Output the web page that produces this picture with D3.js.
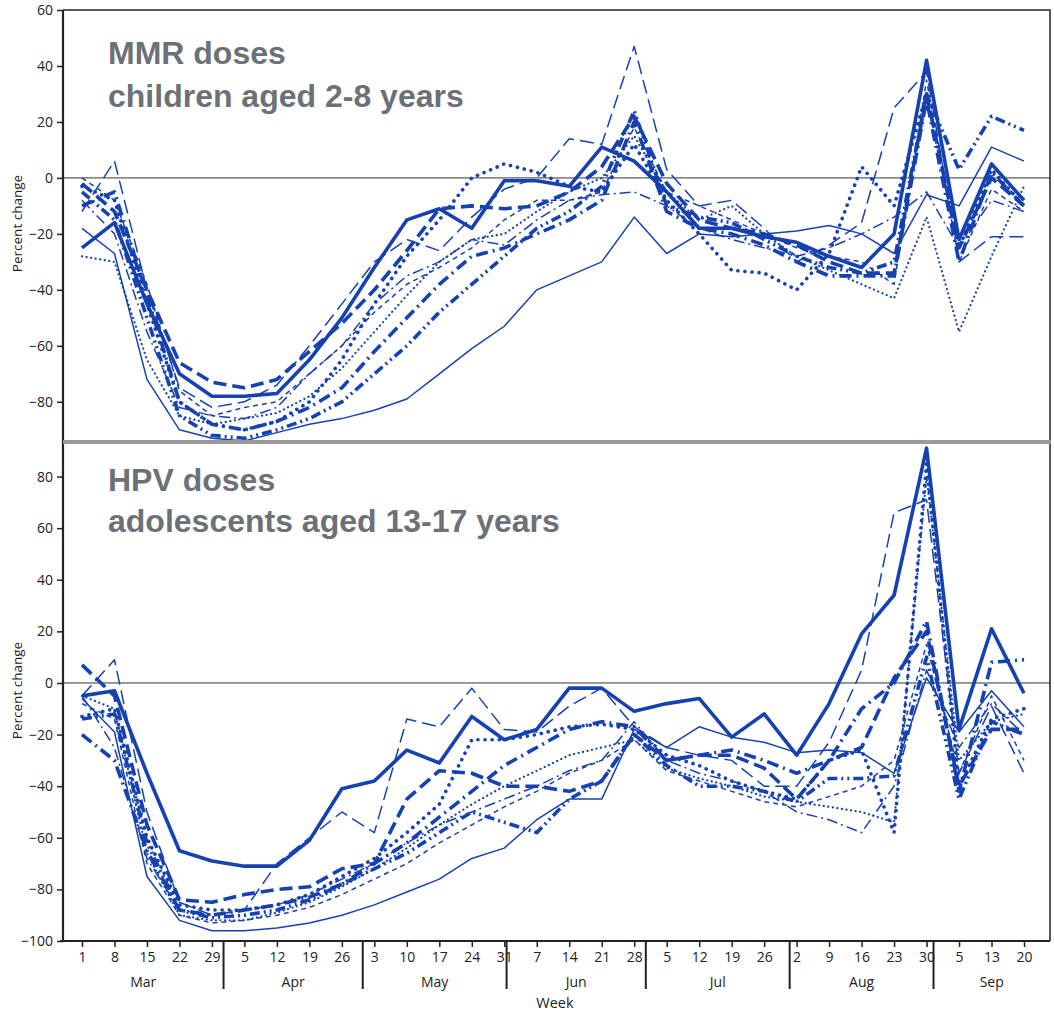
<!DOCTYPE html>
<html>
<head>
<meta charset="utf-8">
<script src="https://cdn.jsdelivr.net/npm/d3@7"></script>
<style>
body { margin: 0; background: #fff; }
svg { display: block; }
</style>
</head>
<body>
<script>
window.onload = function() {
	chart.init();
}

// week start days, Mar 1 to Sep 20
var weekLabels = ["1","8","15","22","29","5","12","19","26","3","10","17","24","31","7","14","21","28","5","12","19","26","2","9","16","23","30","5","13","20"];
var months = ["Mar","Apr","May","Jun","Jul","Aug","Sep"];
var monthFirstDays = ["2020-04-01","2020-05-01","2020-06-01","2020-07-01","2020-08-01","2020-09-01"];

var mmrTicks = [60, 40, 20, 0, -20, -40, -60, -80];
var hpvTicks = [80, 60, 40, 20, 0, -20, -40, -60, -80, -100];

// MMR, children aged 2-8 years (percent change by week)
var mmrThickSolid   = [-25,-16,-45,-70,-78,-78,-77,-65,-50,-32,-15,-11,-18,-1,-1,-3,11,6,-5,-18,-18,-21,-23,-28,-32,-20,42,-22,5,-8];
var mmrThinSolid    = [-18,-27,-72,-90,-93,-94,-91,-88,-86,-83,-79,-70,-61,-53,-40,-35,-30,-14,-27,-20,-21,-20,-19,-17,-20,-27,-6,-10,11,6];
var mmrThickDash    = [-2,-12,-40,-66,-73,-75,-72,-62,-52,-40,-26,-11,-10,-11,-10,-5,4,22,-2,-15,-18,-20,-24,-30,-34,-34,30,-25,0,-10];
var mmrThinDash     = [-12,6,-40,-75,-82,-80,-74,-60,-45,-30,-22,-26,-14,-4,0,14,12,47,3,-10,-8,-18,-30,-24,-16,25,38,-30,-21,-21];
var mmrThickDot     = [-3,-8,-45,-80,-88,-90,-87,-80,-65,-45,-28,-15,0,5,2,-3,-5,12,-8,-20,-33,-34,-40,-27,4,-10,30,-25,3,-10];
var mmrThinDot      = [-28,-30,-65,-85,-88,-86,-84,-78,-68,-55,-42,-30,-22,-20,-12,-5,0,15,-5,-15,-10,-20,-28,-33,-38,-43,-14,-55,-28,-3];
var mmrDashDot      = [-10,-5,-42,-80,-88,-90,-87,-82,-75,-62,-50,-38,-28,-25,-20,-15,-8,20,-12,-18,-20,-24,-30,-35,-35,-35,28,-30,2,-10];
var mmrDashDotDot   = [-5,-15,-50,-85,-92,-93,-90,-86,-80,-70,-60,-48,-38,-28,-18,-12,-3,24,-10,-14,-16,-22,-28,-32,-34,-30,30,3,22,17];
var mmrThinDashDot  = [-8,-20,-55,-82,-85,-86,-82,-70,-60,-45,-35,-30,-22,-24,-15,-8,-6,-5,-10,-18,-22,-25,-28,-25,-20,-14,-5,-25,-8,-12];
var mmrShortDash    = [0,-8,-38,-76,-85,-82,-80,-70,-60,-48,-38,-32,-25,-15,-8,-8,-5,18,-5,-10,-15,-20,-25,-28,-30,-38,35,-30,-4,-12];

// HPV, adolescents aged 13-17 years
var hpvThickSolid   = [-5,-3,-35,-65,-69,-71,-71,-61,-41,-38,-26,-31,-13,-22,-18,-2,-2,-11,-8,-6,-21,-12,-28,-8,19,34,91,-18,21,-4];
var hpvThinSolid    = [-6,-19,-75,-92,-96,-96,-95,-93,-90,-86,-81,-76,-68,-64,-53,-45,-45,-18,-25,-17,-21,-23,-27,-26,-27,-35,2,-19,-3,-17];
var hpvThickDash    = [7,-5,-55,-84,-85,-82,-80,-79,-72,-70,-45,-34,-35,-40,-40,-42,-38,-20,-30,-28,-28,-33,-45,-30,-25,2,20,-40,-18,-18];
var hpvThinDash     = [-5,9,-50,-85,-90,-88,-70,-60,-50,-58,-14,-17,-2,-18,-19,-9,-2,-17,-25,-28,-30,-40,-40,-23,5,66,71,-35,-9,-35];
var hpvThickDot     = [-13,-10,-60,-86,-88,-88,-86,-82,-75,-68,-58,-47,-22,-22,-20,-17,-16,-18,-28,-32,-38,-42,-45,-30,-26,-58,85,-40,-14,-10];
var hpvThinDot      = [-5,-10,-66,-90,-92,-92,-89,-85,-79,-72,-64,-55,-47,-40,-34,-28,-25,-22,-33,-37,-40,-44,-46,-48,-50,-54,80,-30,-15,-12];
var hpvDashDot      = [-20,-30,-65,-88,-90,-88,-86,-83,-78,-70,-62,-52,-42,-32,-25,-18,-15,-17,-30,-28,-26,-30,-35,-30,-10,0,24,-42,8,9];
var hpvDashDotDot   = [-14,-12,-62,-88,-91,-90,-88,-84,-78,-72,-66,-58,-50,-54,-58,-45,-38,-20,-32,-40,-40,-42,-46,-37,-37,-36,10,-45,-15,-20];
var hpvThinDashDot  = [-5,-25,-68,-88,-90,-88,-86,-82,-76,-70,-62,-55,-50,-45,-40,-34,-30,-15,-30,-35,-38,-42,-50,-53,-58,-40,5,-25,-8,-20];
var hpvShortDash    = [-8,-14,-70,-90,-93,-92,-90,-87,-82,-76,-70,-62,-55,-48,-42,-35,-30,-22,-34,-38,-42,-46,-48,-44,-40,-30,15,-35,-5,-30];

var chart = {

	svg: null,
	blue: "#1641b0",
	ink: "#222",
	titleGray: "#6c7177",
	tickFont: "'Open Sans', 'Noto Sans', sans-serif",

	left: 63,
	right: 1050,

	// one style per line, same order as the arrays
	styles: [
		{w: 3.6, dash: null, cap: "butt"},
		{w: 1.5, dash: null, cap: "butt"},
		{w: 3.6, dash: "13,6", cap: "butt"},
		{w: 1.5, dash: "14,6", cap: "butt"},
		{w: 3.6, dash: "0.1,7", cap: "round"},
		{w: 2.2, dash: "0.1,4.5", cap: "round"},
		{w: 3.6, dash: "12,5,2,5", cap: "butt"},
		{w: 3.6, dash: "10,4,2,4,2,4", cap: "butt"},
		{w: 1.5, dash: "11,4,2,4", cap: "butt"},
		{w: 1.5, dash: "5,4", cap: "butt"}
	],

	init: function() {
		this.svg = d3.select("body").append("svg")
			.attr("width", 1054)
			.attr("height", 1012);

		this.x = d3.scaleLinear().domain([0, weekLabels.length - 1]).range([82, 1024]);

		this.panel({
			id: "mmr",
			top: 10, bottom: 441,
			y: d3.scaleLinear().domain([-94, 60]).range([441, 10]),
			ticks: mmrTicks,
			lines: [mmrThickSolid, mmrThinSolid, mmrThickDash, mmrThinDash, mmrThickDot, mmrThinDot, mmrDashDot, mmrDashDotDot, mmrThinDashDot, mmrShortDash],
			title: ["MMR doses", "children aged 2-8 years"],
			titleY: [64, 107]
		});

		this.panel({
			id: "hpv",
			top: 444, bottom: 941,
			y: d3.scaleLinear().domain([-100, 93]).range([941, 443]),
			ticks: hpvTicks,
			lines: [hpvThickSolid, hpvThinSolid, hpvThickDash, hpvThinDash, hpvThickDot, hpvThinDot, hpvDashDot, hpvDashDotDot, hpvThinDashDot, hpvShortDash],
			title: ["HPV doses", "adolescents aged 13-17 years"],
			titleY: [491, 532]
		});

		this.frame();
		this.xAxis();
	},

	panel: function(p) {
		var svg = this.svg, x = this.x, y = p.y, self = this;

		svg.append("clipPath").attr("id", "clip-" + p.id)
			.append("rect")
			.attr("x", this.left).attr("y", p.top)
			.attr("width", this.right - this.left).attr("height", p.bottom - p.top);

		// zero line
		svg.append("line")
			.attr("x1", this.left).attr("x2", this.right)
			.attr("y1", y(0)).attr("y2", y(0))
			.attr("stroke", "#333").attr("stroke-width", 1);

		var line = d3.line()
			.x(function(d, i) { return x(i); })
			.y(function(d) { return y(d); });

		var g = svg.append("g").attr("clip-path", "url(#clip-" + p.id + ")");
		g.selectAll("path")
			.data(p.lines)
			.enter().append("path")
			.attr("d", line)
			.attr("fill", "none")
			.attr("stroke", this.blue)
			.attr("stroke-linejoin", "round")
			.attr("stroke-width", function(d, i) { return self.styles[i].w; })
			.attr("stroke-linecap", function(d, i) { return self.styles[i].cap; })
			.attr("stroke-dasharray", function(d, i) { return self.styles[i].dash; });

		// y axis
		var axis = d3.axisLeft(y).tickValues(p.ticks).tickSize(6).tickPadding(4);
		var ag = svg.append("g")
			.attr("transform", "translate(" + this.left + ",0)")
			.call(axis);
		ag.select(".domain").remove();
		ag.selectAll("line").attr("stroke", this.ink).attr("stroke-width", 1.5);
		ag.selectAll("text")
			.attr("font-family", this.tickFont)
			.attr("font-size", 14)
			.attr("fill", "#222");

		svg.append("text")
			.attr("transform", "translate(22," + ((p.top + p.bottom) / 2 - 2) + ") rotate(-90)")
			.attr("text-anchor", "middle")
			.attr("font-family", this.tickFont)
			.attr("font-size", 13.5)
			.attr("fill", "#222")
			.text("Percent change");

		var t = svg.append("g")
			.attr("font-family", "'Liberation Sans', Arial, sans-serif")
			.attr("font-weight", "bold")
			.attr("font-size", 32)
			.attr("fill", this.titleGray);
		p.title.forEach(function(s, i) {
			t.append("text").attr("x", 108).attr("y", p.titleY[i]).text(s);
		});
	},

	frame: function() {
		var svg = this.svg;
		// outer box
		svg.append("path")
			.attr("d", "M" + this.left + ",10H" + this.right + "V941")
			.attr("fill", "none").attr("stroke", this.ink).attr("stroke-width", 1.5);
		svg.append("line")
			.attr("x1", this.left).attr("x2", this.left)
			.attr("y1", 10).attr("y2", 941)
			.attr("stroke", this.ink).attr("stroke-width", 2.2);
		// grey seam between the two panels
		svg.append("line")
			.attr("x1", this.left).attr("x2", this.right + 1)
			.attr("y1", 442).attr("y2", 442)
			.attr("stroke", "#9a9a9a").attr("stroke-width", 4);
	},

	xAxis: function() {
		var svg = this.svg, x = this.x;
		var axisY = 941;

		var axis = d3.axisBottom(x)
			.tickValues(d3.range(weekLabels.length))
			.tickFormat(function(i) { return weekLabels[i]; })
			.tickSize(6).tickPadding(5);
		var ag = svg.append("g")
			.attr("transform", "translate(0," + axisY + ")")
			.call(axis);
		ag.select(".domain").remove();
		ag.selectAll("line").attr("stroke", this.ink).attr("stroke-width", 1.5);
		ag.selectAll("text")
			.attr("font-family", this.tickFont)
			.attr("font-size", 14)
			.attr("fill", "#222");

		svg.append("line")
			.attr("x1", this.left - 3).attr("x2", this.right)
			.attr("y1", axisY).attr("y2", axisY)
			.attr("stroke", this.ink).attr("stroke-width", 2.2);

		// month dividers sit where the 1st of the month falls inside a week
		var start = new Date(2020, 2, 1);
		var bounds = monthFirstDays.map(function(s) {
			var d = d3.timeParse("%Y-%m-%d")(s);
			return x((d3.timeDay.count(start, d) - 0.5) / 7);
		});

		svg.selectAll(".divider")
			.data(bounds)
			.enter().append("line")
			.attr("class", "divider")
			.attr("x1", function(d) { return d; }).attr("x2", function(d) { return d; })
			.attr("y1", axisY).attr("y2", axisY + 48)
			.attr("stroke", this.ink).attr("stroke-width", 2);

		var edges = [this.left].concat(bounds).concat([this.right]);
		svg.selectAll(".month")
			.data(months)
			.enter().append("text")
			.attr("class", "month")
			.attr("x", function(d, i) { return (edges[i] + edges[i + 1]) / 2; })
			.attr("y", axisY + 46)
			.attr("text-anchor", "middle")
			.attr("font-family", this.tickFont)
			.attr("font-size", 14)
			.attr("fill", "#222")
			.text(function(d) { return d; });

		svg.append("text")
			.attr("x", 555).attr("y", 1008)
			.attr("text-anchor", "middle")
			.attr("font-family", this.tickFont)
			.attr("font-size", 14.5)
			.attr("fill", "#222")
			.text("Week");
	}
};
</script>
</body>
</html>
